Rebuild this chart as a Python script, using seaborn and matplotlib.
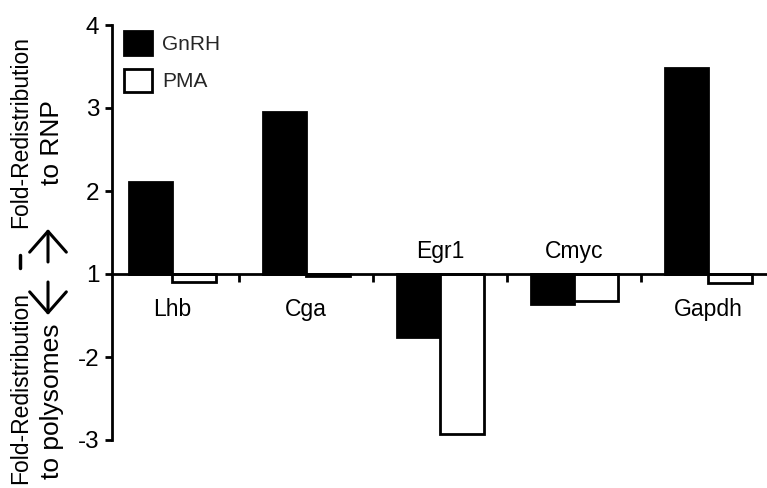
import matplotlib
matplotlib.use("Agg")
import matplotlib.pyplot as plt
import matplotlib.patches as mpatches
from matplotlib.lines import Line2D
import pandas as pd
import seaborn as sns

# Fold redistribution per gene (positive: toward RNP, negative: toward polysomes)
genes = ["Lhb", "Cga", "Egr1", "Cmyc", "Gapdh"]
treatments = ["GnRH", "PMA"]
gnrh_fold = [2.11, 2.95, -1.76, -1.36, 3.48]
pma_fold = [-1.10, -1.02, -2.93, -1.33, -1.11]
fold_ticks = [4, 3, 2, 1, -2, -3]
colors = {"GnRH": "black", "PMA": "white"}


def to_axis(v):
    # fold values never fall between -1 and 1, so that gap is collapsed at 0
    return v - 1 if v >= 1 else v + 1


df = pd.DataFrame({
    "gene": genes * 2,
    "treatment": ["GnRH"] * len(genes) + ["PMA"] * len(genes),
    "fold": gnrh_fold + pma_fold,
})
df["pos"] = df["fold"].map(to_axis)

sns.set_theme(style="ticks")
plt.rcParams["font.family"] = ["Liberation Sans", "DejaVu Sans"]

W, H = 767, 488
fig = plt.figure(figsize=(W / 100, H / 100), dpi=100)
ax = fig.add_axes([112 / W, 1 - 440 / H, (W - 112) / W, 415 / H])

sns.barplot(data=df, x="gene", y="pos", hue="treatment", order=genes,
            hue_order=treatments, palette=colors, edgecolor="black",
            linewidth=2, width=0.65, errorbar=None, legend=False, ax=ax)

ax.set_xlim(-0.45, 4.44)
ax.set_ylim(-2, 3)
ax.set_xlabel("")
ax.set_ylabel("")

for side in ("top", "right"):
    ax.spines[side].set_visible(False)
ax.spines["bottom"].set_position(("data", 0))
for side in ("bottom", "left"):
    ax.spines[side].set_linewidth(2)
    ax.spines[side].set_color("black")

ax.set_yticks([to_axis(t) for t in fold_ticks])
ax.set_yticklabels([str(t) for t in fold_ticks])
ax.tick_params(axis="y", direction="out", length=5, width=2, labelsize=17.5,
               pad=4, color="black", labelcolor="black")

ax.set_xticks([])
ax.set_xticks([i + 0.5 for i in range(len(genes) - 1)], minor=True)
ax.tick_params(axis="x", which="minor", direction="out", length=6, width=2,
               color="black")

# gene names sit on the opposite side of the baseline from the GnRH bar
for i, (g, v) in enumerate(zip(genes, gnrh_fold)):
    if v >= 1:
        ax.annotate(g, (i, 0), xytext=(0, -17), textcoords="offset points",
                    ha="center", va="top", fontsize=16.5, color="black")
    else:
        ax.annotate(g, (i, 0), xytext=(0, 11.5), textcoords="offset points",
                    ha="center", va="baseline", fontsize=16.5, color="black")

handles = [mpatches.Patch(facecolor=colors[t], edgecolor="black", linewidth=2)
           for t in treatments]
ax.legend(handles, treatments, loc="upper left", bbox_to_anchor=(0.018, 0.985),
          frameon=False, fontsize=15, handlelength=1.35, handleheight=1.35,
          labelspacing=0.68, handletextpad=0.48, borderpad=0, borderaxespad=0)

# split y-axis title
def fig_text(x, y, s, size):
    fig.text(x / W, 1 - y / H, s, rotation=90, ha="center", va="center",
             fontsize=size, color="black")

fig_text(21, 132, "Fold-Redistribution", 16.5)
fig_text(52, 143, "to RNP", 19)
fig_text(21, 388, "Fold-Redistribution", 16.5)
fig_text(52, 401, "to polysomes", 19)

for tail, tip in (((48, 262), (48, 229)), ((48, 282), (48, 315))):
    ax.annotate("", xy=(tip[0], H - tip[1]), xytext=(tail[0], H - tail[1]),
                xycoords="figure pixels", textcoords="figure pixels",
                annotation_clip=False,
                arrowprops=dict(arrowstyle="->,head_length=0.25,head_width=0.22",
                                lw=2.2, color="black", mutation_scale=60,
                                shrinkA=0, shrinkB=0))
fig.add_artist(Line2D([20 / W, 20 / W], [1 - 255 / H, 1 - 268 / H],
                      transform=fig.transFigure, lw=2.5, color="black"))

fig.savefig("out.png", dpi=100)
